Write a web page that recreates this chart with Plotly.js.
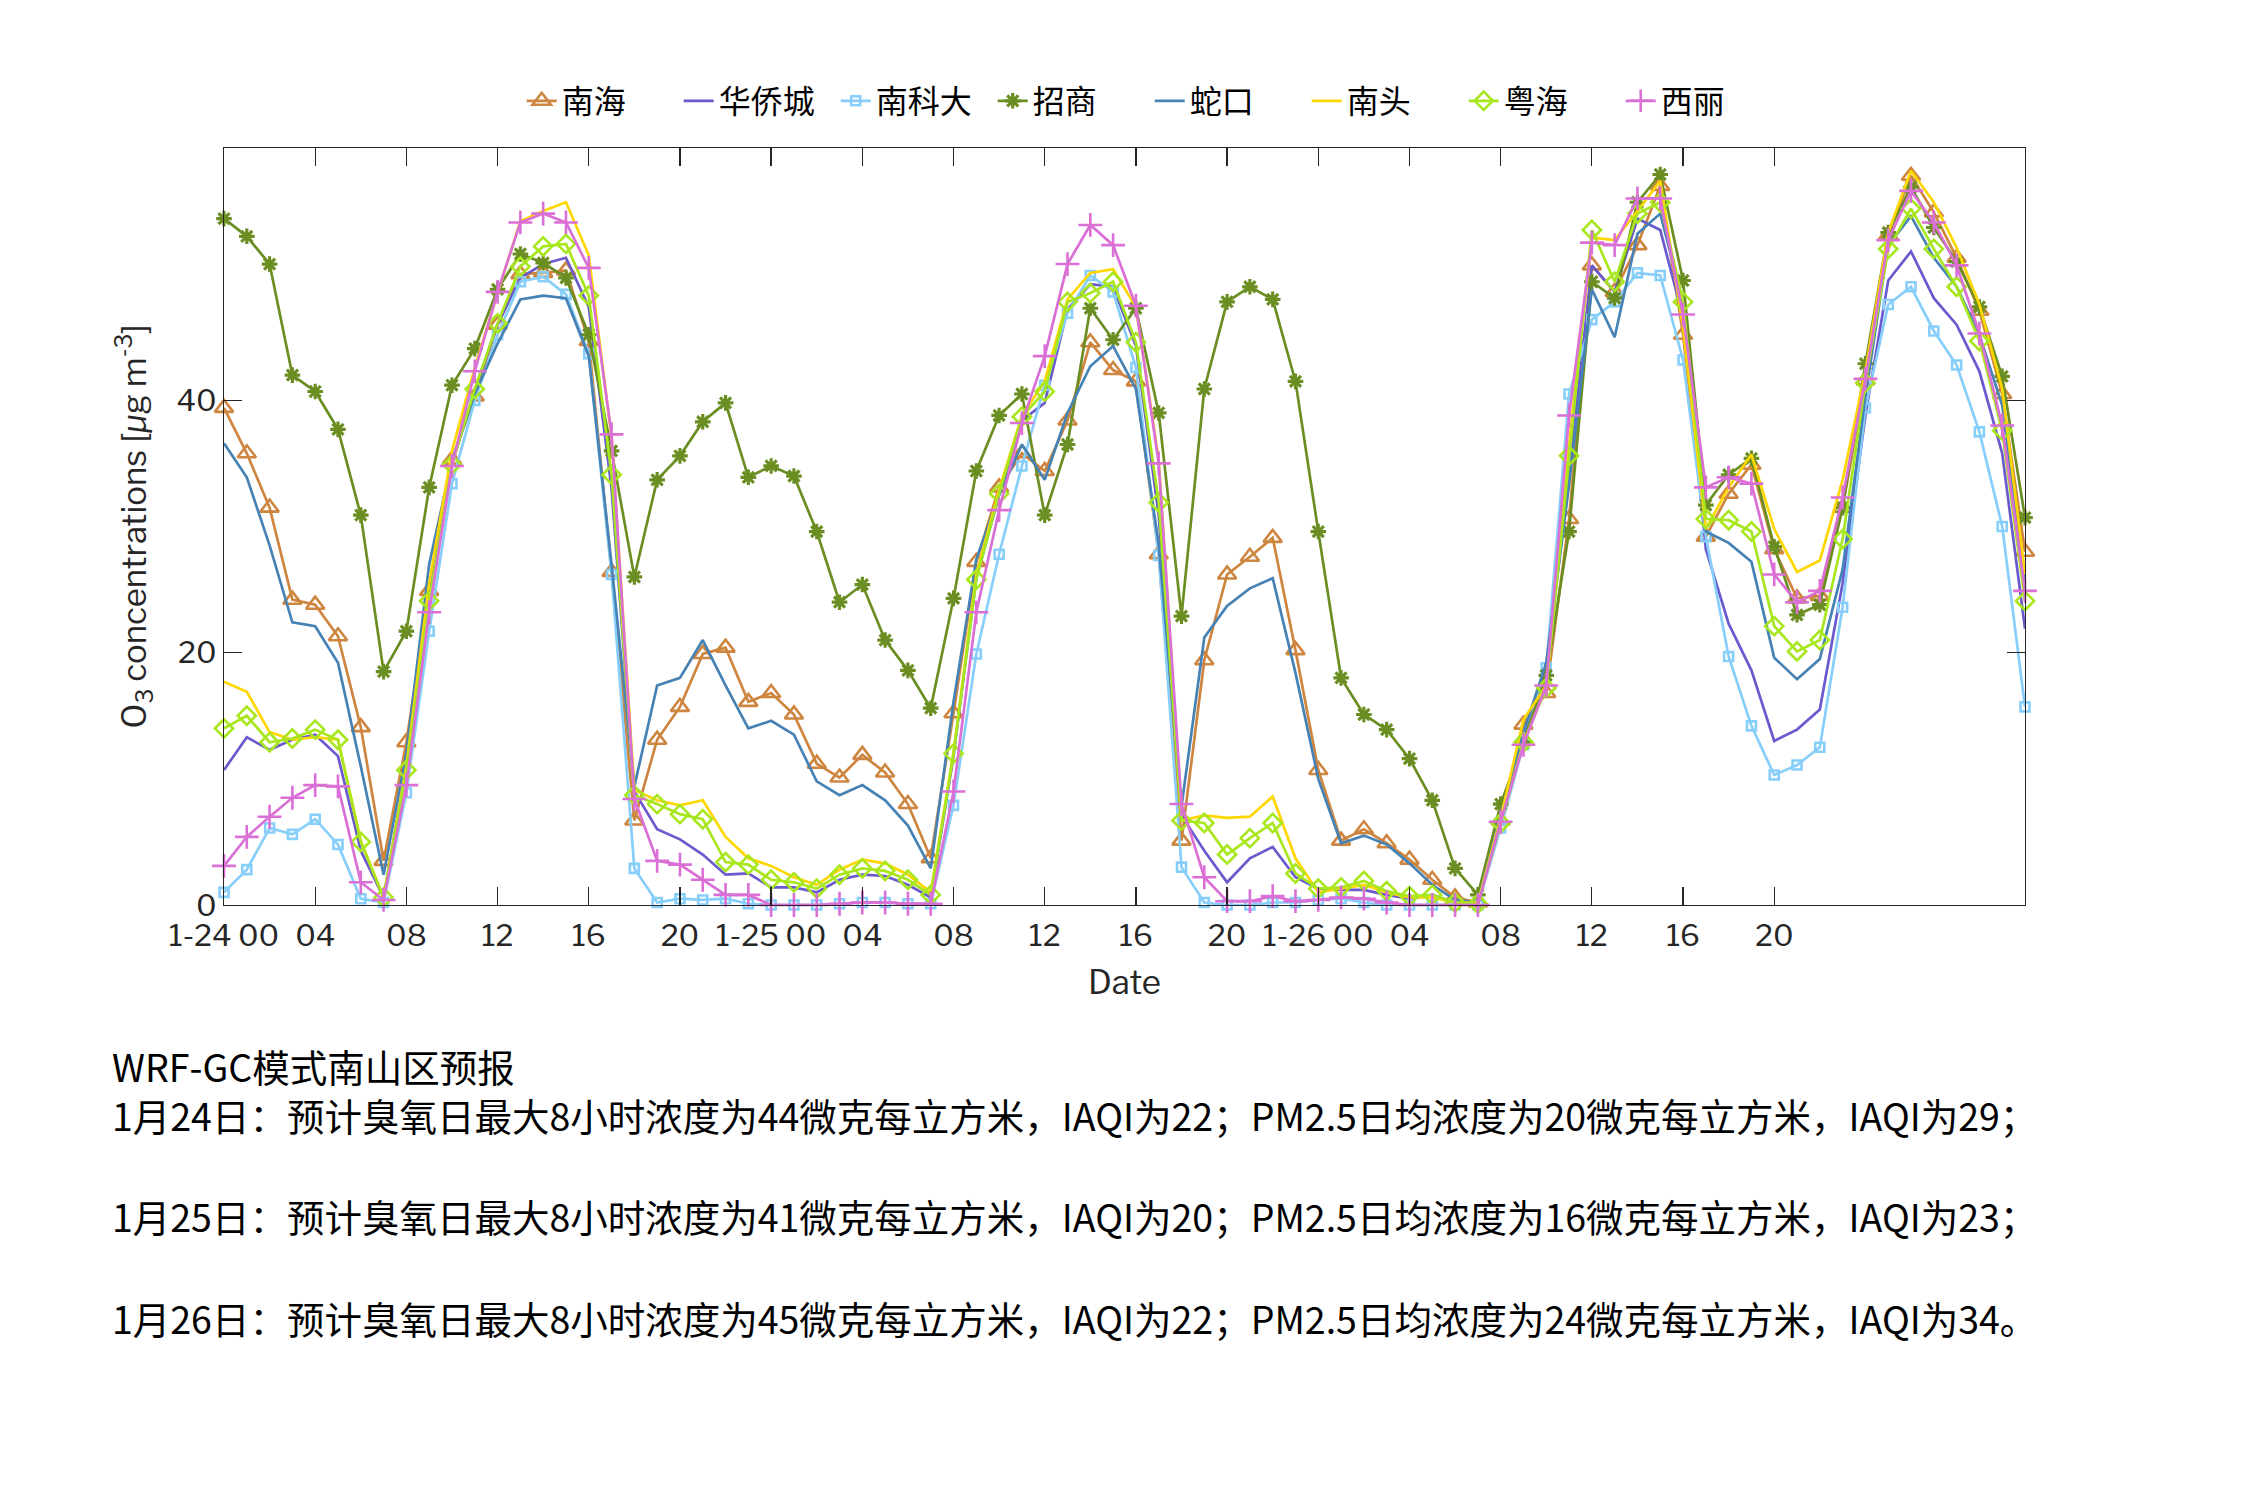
<!DOCTYPE html>
<html>
<head>
<meta charset="utf-8">
<script src="https://cdn.plot.ly/plotly-3.0.1.min.js"></script>
<style>
  html, body { margin: 0; padding: 0; background: #ffffff; }
  #chart { width: 2250px; height: 1500px; }
</style>
</head>
<body>
<div id="chart"></div>
<script>
// Hour index since 1-24 00
const hours = [0,1,2,3,4,5,6,7,8,9,10,11,12,13,14,15,16,17,18,19,20,21,22,23,24,25,26,27,28,29,30,31,32,33,34,35,36,37,38,39,40,41,42,43,44,45,46,47,48,49,50,51,52,53,54,55,56,57,58,59,60,61,62,63,64,65,66,67,68,69,70,71,72,73,74,75,76,77,78,79];

const tickVals = [0,4,8,12,16,20,24,28,32,36,40,44,48,52,56,60,64,68];
const tickText = ["1-24 00","04","08","12","16","20","1-25 00","04","08","12","16","20","1-26 00","04","08","12","16","20"];

const seriesNames = ["南海","华侨城","南科大","招商","蛇口","南头","粤海","西丽"];

const nanhai = [39.4,35.8,31.5,24.2,23.8,21.3,14.1,3.5,12.9,24.9,35.3,40.3,46.0,50.0,50.1,50.3,44.7,26.4,6.7,13.1,15.7,19.9,20.4,16.1,16.8,15.1,11.2,10.1,11.9,10.5,8.0,3.7,15.2,27.2,33.1,35.8,34.4,38.4,44.6,42.4,41.5,27.8,5.1,19.4,26.2,27.6,29.1,20.2,10.7,5.1,6.0,4.9,3.6,2.0,0.6,0.2,6.7,14.3,16.8,30.6,50.7,48.6,52.3,57.0,45.2,29.2,32.6,34.9,28.2,24.3,24.5,31.5,41.6,53.1,57.8,54.9,51.3,47.1,40.5,28.0];

const huaqiaocheng = [10.7,13.3,12.3,13.1,13.5,11.8,4.3,0.6,11.0,24.5,35.0,40.8,46.0,49.7,50.8,51.3,47.4,33.0,9.0,6.0,5.2,4.0,2.4,2.5,1.4,1.4,1.0,2.0,2.4,2.3,1.6,0.6,11.8,25.9,32.5,38.4,39.8,47.2,49.2,49.0,44.3,30.9,7.1,4.3,1.8,3.7,4.6,2.2,1.3,1.2,1.2,0.8,0.5,0.8,0.2,0.2,6.7,13.1,18.4,34.1,50.7,48.6,54.4,53.5,46.6,28.2,22.3,18.6,13.0,13.9,15.5,25.5,38.8,49.5,51.8,48.1,46.0,42.3,35.8,21.9];

const nankeda = [1.0,2.8,6.1,5.6,6.8,4.8,0.5,0.2,8.9,21.7,33.4,40.0,45.2,49.4,49.8,48.4,43.7,26.2,2.9,0.2,0.5,0.4,0.5,0.1,0.0,0.0,0.0,0.1,0.2,0.2,0.1,0.1,7.9,19.9,27.8,34.8,41.2,46.9,49.9,48.6,42.6,27.7,3.0,0.2,0.0,0.0,0.2,0.2,0.4,0.5,0.2,0.0,0.0,0.0,0.0,0.0,6.1,12.7,18.8,40.5,46.4,47.8,50.1,49.9,43.2,29.2,19.7,14.2,10.3,11.1,12.5,23.6,39.4,47.6,49.0,45.5,42.8,37.5,30.0,15.7];

const zhaoshang = [54.4,53.0,50.8,42.0,40.7,37.7,30.9,18.5,21.7,33.1,41.2,44.1,48.8,51.6,50.9,49.7,45.2,36.0,26.0,33.7,35.6,38.3,39.8,33.9,34.8,34.0,29.6,24.0,25.4,21.0,18.6,15.6,24.3,34.4,38.8,40.5,30.9,36.5,47.3,44.8,47.3,39.0,22.9,40.9,47.8,49.0,48.0,41.5,29.6,18.0,15.1,13.9,11.6,8.3,2.9,0.8,8.0,12.9,18.2,29.6,49.4,48.1,55.7,57.9,49.5,31.7,34.1,35.4,28.4,23.0,23.8,31.5,42.9,53.3,56.9,53.7,51.0,47.4,41.9,30.7];

const shekou = [36.6,33.9,28.5,22.4,22.1,19.2,11.0,2.4,12.0,27.0,35.2,40.5,44.5,48.0,48.3,48.1,43.5,27.0,9.4,17.4,18.0,21.0,17.4,14.0,14.6,13.5,9.8,8.7,9.5,8.3,6.3,2.9,16.1,27.4,32.5,36.5,33.7,39.0,42.7,44.3,40.9,28.6,7.8,21.2,23.7,25.1,25.9,18.4,10.0,4.9,5.5,4.8,3.3,1.6,0.4,0.2,7.1,13.7,19.2,33.3,48.8,45.0,53.2,54.8,47.8,29.6,28.7,27.2,19.6,17.9,19.5,26.6,40.3,52.3,54.6,51.3,49.0,45.2,39.6,25.5];

const nantou = [17.7,16.9,13.7,13.1,13.3,13.1,5.1,0.6,11.0,25.5,36.0,42.6,48.5,54.2,55.0,55.7,51.5,37.0,9.1,8.3,7.9,8.3,5.4,3.7,3.1,2.2,1.6,2.8,3.6,3.3,2.4,1.0,12.1,26.2,32.9,38.8,41.5,48.0,50.1,50.4,47.4,35.3,6.7,7.1,6.9,7.0,8.6,3.7,1.0,1.3,1.6,1.0,0.6,0.6,0.2,0.2,6.9,14.7,17.4,36.4,52.9,52.7,55.0,57.4,45.8,29.8,33.1,35.7,29.8,26.4,27.3,33.7,42.3,53.3,58.2,55.7,52.1,47.6,40.9,26.2];

const yuehai = [14.0,15.0,12.9,13.2,13.9,13.1,5.0,0.6,10.7,24.1,34.9,40.9,46.1,50.6,52.2,52.4,48.3,34.1,8.7,8.0,7.2,6.8,3.4,3.2,2.0,1.8,1.3,2.4,2.9,2.7,2.0,0.8,12.0,25.8,32.6,38.7,40.7,47.8,48.5,49.4,44.6,31.9,6.7,6.5,4.0,5.3,6.5,2.5,1.3,1.4,1.9,1.1,0.7,0.8,0.2,0.1,6.5,12.9,17.2,35.6,53.5,49.4,54.8,55.7,47.8,30.6,30.5,29.6,22.1,20.1,21.0,29.0,41.4,52.0,55.2,52.0,49.0,44.7,37.6,24.1];

const xili = [3.1,5.4,7.0,8.5,9.5,9.4,1.8,0.4,9.5,23.2,34.8,42.3,48.6,54.1,54.8,54.1,50.5,37.3,8.4,3.5,3.2,2.0,0.8,0.8,0.0,0.0,0.0,0.1,0.2,0.2,0.1,0.1,9.0,23.2,31.3,38.2,43.5,50.8,53.9,52.3,47.5,35.0,8.0,2.2,0.3,0.3,0.7,0.3,0.4,0.6,0.5,0.2,0.0,0.0,0.0,0.0,6.6,12.7,17.4,38.8,52.5,52.3,56.0,56.0,46.8,33.1,33.9,33.4,26.2,24.0,24.9,32.3,41.7,52.7,56.6,54.1,50.7,45.3,38.0,24.9];

const noteLines = [
  "WRF-GC模式南山区预报",
  "1月24日：预计臭氧日最大8小时浓度为44微克每立方米，IAQI为22；PM2.5日均浓度为20微克每立方米，IAQI为29；",
  "1月25日：预计臭氧日最大8小时浓度为41微克每立方米，IAQI为20；PM2.5日均浓度为16微克每立方米，IAQI为23；",
  "1月26日：预计臭氧日最大8小时浓度为45微克每立方米，IAQI为22；PM2.5日均浓度为24微克每立方米，IAQI为34。"
];

// ---- styling (kept separate from the data) ----
const seriesValues = [nanhai, huaqiaocheng, nankeda, zhaoshang, shekou, nantou, yuehai, xili];
const styles = [
  {color: "#CD853F", symbol: "triangle-up-open", size: 16, lw: 2.6, mode: "lines+markers"},
  {color: "#6A5ACD", symbol: "circle", size: 1, lw: 2.6, mode: "lines"},
  {color: "#87CEFA", symbol: "square-open", size: 9, lw: 2.6, mode: "lines+markers"},
  {color: "#6B8E23", symbol: "asterisk-open", size: 13, lw: 3.2, mode: "lines+markers"},
  {color: "#4682B4", symbol: "circle", size: 1, lw: 2.6, mode: "lines"},
  {color: "#FFD700", symbol: "circle", size: 1, lw: 2.6, mode: "lines"},
  {color: "#A8E61D", symbol: "diamond-open", size: 14, lw: 2.6, mode: "lines+markers"},
  {color: "#DA70D6", symbol: "cross-thin-open", size: 17, lw: 2.6, mode: "lines+markers"}
];

const traces = seriesNames.map((name, i) => ({
  type: "scatter",
  x: hours,
  y: seriesValues[i],
  name: name,
  mode: styles[i].mode,
  line: {color: styles[i].color, width: 2.7},
  marker: {symbol: styles[i].symbol, size: styles[i].size, color: styles[i].color,
           line: {color: styles[i].color, width: styles[i].lw}},
  cliponaxis: false
}));

const W = 2250, H = 1500;
const L = 224, R = 2025, T = 148, B = 905;
const plotH = B - T;
function py(pix) { return (B - pix) / plotH; }
function px(pix) { return (pix - L) / (R - L); }

const noteY = [1065, 1114, 1215, 1317];
const annotations = noteLines.map((t, i) => ({
  text: t, xref: "paper", yref: "paper",
  x: px(110), y: py(noteY[i]), xanchor: "left", yanchor: "middle",
  showarrow: false,
  font: {family: "Noto Sans CJK SC, Noto Sans, sans-serif", size: 37.5, color: "#000000"}
}));

const axisFont = {family: "Libre Franklin, Liberation Sans, Noto Sans, sans-serif", size: 30, color: "#262626"};
const titleFont = {family: "Libre Franklin, Liberation Sans, Noto Sans, sans-serif", size: 33, color: "#262626"};

const layout = {
  width: W, height: H,
  paper_bgcolor: "#ffffff", plot_bgcolor: "#ffffff",
  margin: {l: L, r: W - R, t: T, b: H - B, pad: 0},
  showlegend: true,
  legend: {
    orientation: "h", x: 0.514, xanchor: "center", y: py(101), yanchor: "middle",
    font: {family: "Noto Sans CJK SC, sans-serif", size: 32, color: "#000000"},
    itemwidth: 30, entrywidth: 112, entrywidthmode: "pixels",
    tracegroupgap: 0, bgcolor: "rgba(0,0,0,0)"
  },
  xaxis: {
    range: [0, 79], tickmode: "array", tickvals: tickVals, ticktext: tickText,
    ticks: "inside", ticklen: 18, tickwidth: 1.3, tickcolor: "#262626",
    showline: true, linecolor: "#262626", linewidth: 1.3, mirror: "ticks",
    showgrid: false, zeroline: false,
    tickfont: axisFont, ticklabelstandoff: 4,
    title: {text: "Date", font: titleFont, standoff: 18}
  },
  yaxis: {
    range: [0, 60], tickmode: "array", tickvals: [0, 20, 40], ticktext: ["0", "20", "40"],
    ticks: "inside", ticklen: 18, tickwidth: 1.3, tickcolor: "#262626",
    showline: true, linecolor: "#262626", linewidth: 1.3, mirror: "ticks",
    showgrid: false, zeroline: false,
    tickfont: axisFont,
    title: {text: "O<sub>3</sub> concentrations [<i>μ</i>g m<sup>-3</sup>]", font: titleFont, standoff: 20}
  },
  annotations: annotations
};

Plotly.newPlot("chart", traces, layout, {displayModeBar: false, staticPlot: true});
</script>
</body>
</html>
